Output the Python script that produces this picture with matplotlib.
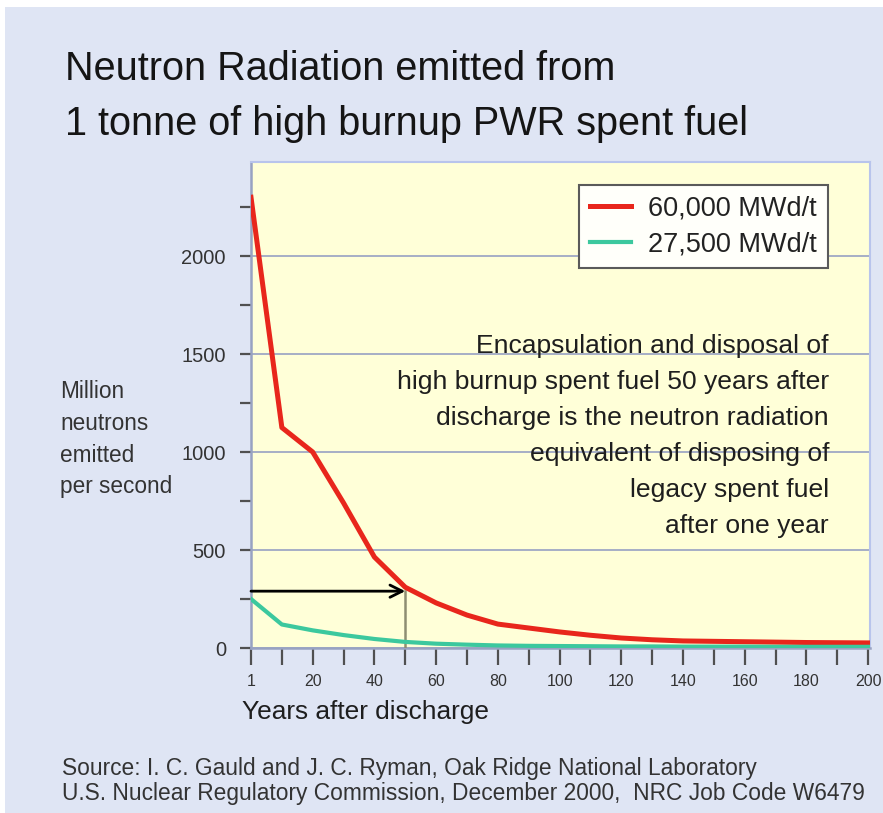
import matplotlib
matplotlib.use("Agg")
import matplotlib.pyplot as plt
from matplotlib.patches import Rectangle
import numpy as np

plt.rcParams['font.family'] = ['Liberation Sans', 'DejaVu Sans']

# ---------------- data ----------------
years = [1, 10, 20, 30, 40, 50, 60, 70, 80, 90, 100,
         110, 120, 130, 140, 150, 160, 170, 180, 190, 200]
high_burnup = [2300, 1125, 1000, 740, 464, 310, 230, 168, 122, 102, 82,
               65, 51, 42, 36, 34, 32, 30, 28, 27, 26]
legacy = [250, 120, 90, 66, 46, 31, 22, 17, 13, 11, 10,
          9, 8, 8, 7, 7, 7, 6, 6, 6, 6]
series_labels = ["60,000 MWd/t", "27,500 MWd/t"]
x_label_years = [1, 20, 40, 60, 80, 100, 120, 140, 160, 180, 200]
y_major = [0, 500, 1000, 1500, 2000]
y_minor = [250, 750, 1250, 1750, 2250]
marker_year = 50
marker_value = 290

title_lines = ["Neutron Radiation emitted from",
               "1 tonne of high burnup PWR spent fuel"]
ylabel_lines = ["Million", "neutrons", "emitted", "per second"]
xlabel = "Years after discharge"
note_lines = ["Encapsulation and disposal of",
              "high burnup spent fuel 50 years after",
              "discharge is the neutron radiation",
              "equivalent of disposing of",
              "legacy spent fuel",
              "after one year"]
source_lines = ["Source: I. C. Gauld and J. C. Ryman, Oak Ridge National Laboratory",
                "U.S. Nuclear Regulatory Commission, December 2000,  NRC Job Code W6479"]

# ---------------- figure ----------------
W, H = 883, 813
fig = plt.figure(figsize=(W / 100, H / 100), dpi=100, facecolor='white')
BG = '#DFE5F4'
fig.patches.append(Rectangle((5 / W, 0), 1, (H - 7) / H, transform=fig.transFigure,
                             facecolor=BG, edgecolor='none', zorder=-10))


def px(x, y):
    return x / W, 1 - y / H


renderer = fig.canvas.get_renderer()


def fit_size(texts, width):
    w = max(t.get_window_extent(renderer).width for t in texts)
    for t in texts:
        t.set_fontsize(t.get_fontsize() * width / w)


ax = fig.add_axes([251 / W, (H - 648) / H, (870 - 251) / W, (648 - 162) / H])
ax.set_facecolor('#FFFFD8')
pos = np.arange(len(years))

ax.plot(pos, high_burnup, color='#E8261C', lw=3.6, solid_joinstyle='round', zorder=4,
        label=series_labels[0])
ax.plot(pos, legacy, color='#3CC89E', lw=3.0, zorder=4, label=series_labels[1])

mi = years.index(marker_year)
ax.plot([mi, mi], [0, marker_value], color='#8E8E72', lw=1.8, zorder=3)
ax.annotate('', xy=(mi, marker_value), xytext=(0, marker_value),
            arrowprops=dict(arrowstyle='->', lw=2.0, color='black',
                            mutation_scale=22, shrinkA=0, shrinkB=0), zorder=5)

ax.set_xlim(0, len(years) - 1 + 0.06)
ax.set_ylim(0, 2480)

ax.set_xticks(pos)
ax.set_xticklabels([str(y) if y in x_label_years else '' for y in years])
ax.set_yticks(y_major)
ax.set_yticklabels([str(v) for v in y_major])
ax.set_yticks(y_minor, minor=True)

ax.tick_params(axis='x', which='both', direction='out', length=12, width=1.6,
               color='#505050', labelsize=11.5, labelcolor='#333333', pad=7)
ax.tick_params(axis='y', which='both', direction='out', length=8, width=1.6,
               color='#505050', labelsize=14.5, labelcolor='#333333', pad=10)

ax.yaxis.grid(True, which='major', color='#A6AEC6', lw=1.4)
ax.set_axisbelow(True)
for side in ['top', 'right']:
    ax.spines[side].set_color('#B8C4EC')
    ax.spines[side].set_linewidth(1.5)
for side in ['left', 'bottom']:
    ax.spines[side].set_color('#98A2C2')
    ax.spines[side].set_linewidth(1.8)

leg = ax.legend(loc='upper right', bbox_to_anchor=px(828, 185),
                bbox_transform=fig.transFigure, fontsize=19.5, frameon=True,
                fancybox=False, framealpha=1, facecolor='#FFFFFA', edgecolor='#5A5A5A',
                handlelength=1.5, handletextpad=0.65, borderpad=0.4,
                labelspacing=0.35, borderaxespad=0)
leg.get_frame().set_linewidth(1.5)
for t in leg.get_texts():
    t.set_color('#222222')

# ---------------- texts ----------------
tt = [fig.text(*px(65, 80), title_lines[0], fontsize=28, color='#151515', va='baseline'),
      fig.text(*px(65, 135), title_lines[1], fontsize=28, color='#151515', va='baseline')]
fit_size(tt, 683)

yl_base = [398, 430, 462, 493]
yl = [fig.text(*px(60, b), s, fontsize=15, color='#333333', va='baseline')
      for s, b in zip(ylabel_lines, yl_base)]
fit_size(yl, 112)

xl = fig.text(*px(242, 719), xlabel, fontsize=19, color='#1e1e1e', va='baseline')
fit_size([xl], 247)

note_base = [353, 389, 425, 461, 497, 533]
nt = [fig.text(*px(829, b), s, fontsize=19, color='#1e1e1e', va='baseline', ha='right')
      for s, b in zip(note_lines, note_base)]
fit_size(nt, 432)

src_base = [775, 800]
st = [fig.text(*px(62, b), s, fontsize=15, color='#333333', va='baseline')
      for s, b in zip(source_lines, src_base)]
fit_size(st, 805)

fig.savefig('out.png', dpi=100, facecolor=fig.get_facecolor())
